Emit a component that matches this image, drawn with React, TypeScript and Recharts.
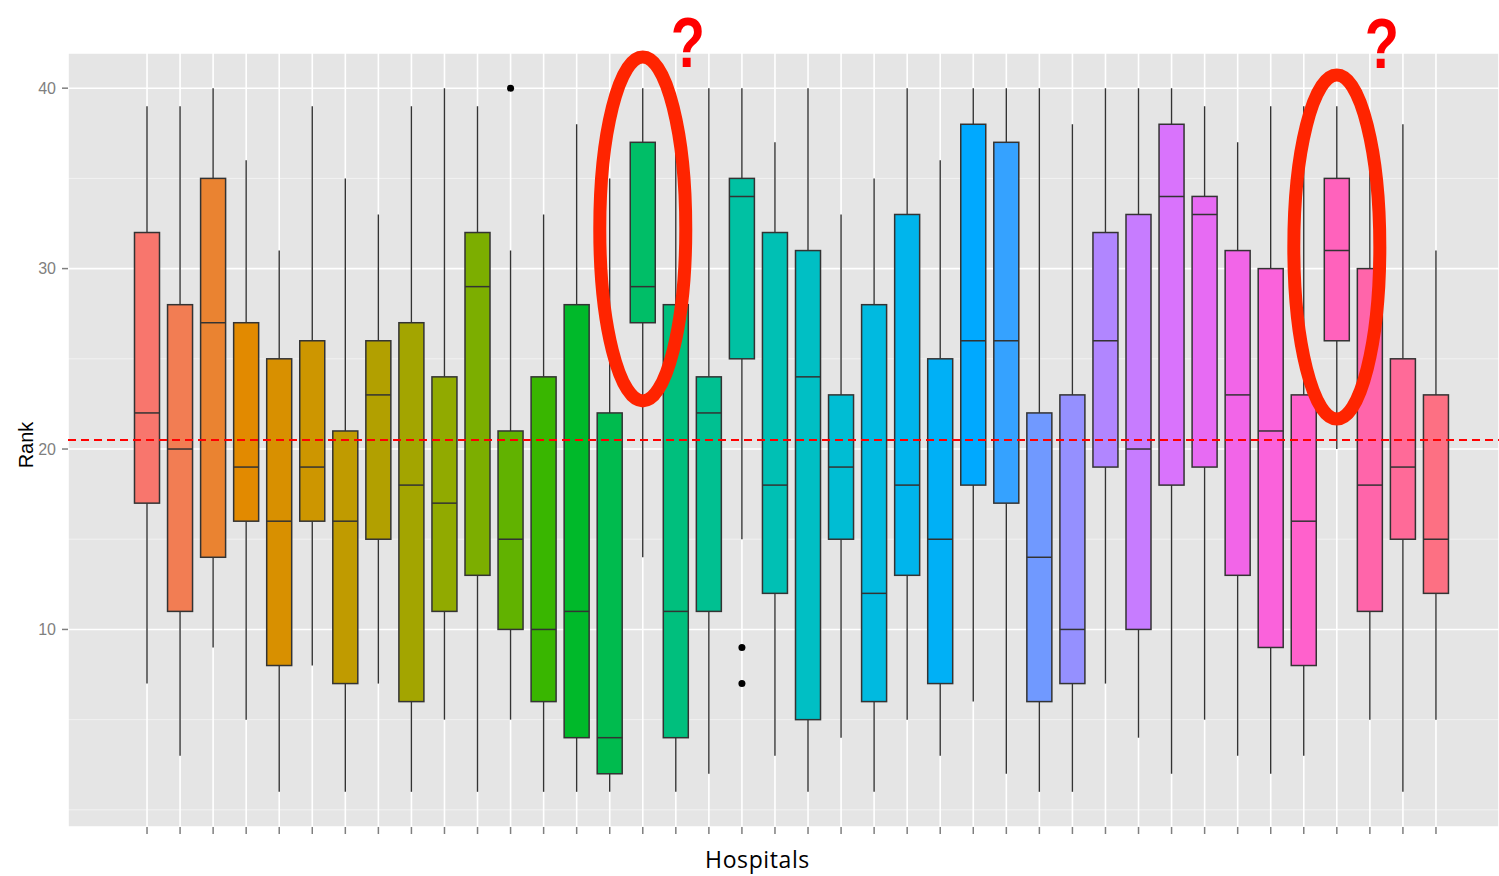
import {
  ComposedChart,
  Bar,
  Scatter,
  XAxis,
  YAxis,
  CartesianGrid,
  ReferenceLine,
  ReferenceDot,
} from 'recharts'

// 40 hospitals, rank distributions (whisker low / Q1 / median / Q3 / whisker high)
const hospitals = Array.from({ length: 40 }, (_, i) => `H${i + 1}`)

const whiskerHigh = [
  39, 39, 40, 36, 31, 39, 35, 33, 39, 40, 39, 31, 33, 38, 35, 40, 37, 40, 40, 37,
  40, 33, 35, 40, 36, 40, 40, 40, 38, 40, 40, 40, 39, 37, 39, 39, 39, 36, 38, 31,
]
const upperQuartile = [
  32, 28, 35, 27, 25, 26, 21, 26, 27, 24, 32, 21, 24, 28, 22, 37, 28, 24, 35, 32,
  31, 23, 28, 33, 25, 38, 37, 22, 23, 32, 33, 38, 34, 31, 30, 23, 35, 30, 25, 23,
]
const medianRank = [
  22, 20, 27, 19, 16, 19, 16, 23, 18, 17, 29, 15, 10, 11, 4, 29, 11, 22, 34, 18,
  24, 19, 12, 18, 15, 26, 26, 14, 10, 26, 20, 34, 33, 23, 21, 16, 31, 18, 19, 15,
]
const lowerQuartile = [
  17, 11, 14, 16, 8, 16, 7, 15, 6, 11, 13, 10, 6, 4, 2, 27, 4, 11, 25, 12,
  5, 15, 6, 13, 7, 18, 17, 6, 7, 19, 10, 18, 19, 13, 9, 8, 26, 11, 15, 12,
]
const whiskerLow = [
  7, 3, 9, 5, 1, 8, 1, 7, 1, 5, 1, 5, 1, 1, 1, 14, 1, 2, 15, 3,
  1, 4, 1, 5, 3, 6, 2, 1, 1, 7, 4, 2, 5, 3, 2, 3, 20, 5, 1, 5,
]

// outlier points: hospital + rank
const outlierHospitals = ['H12', 'H19', 'H19']
const outlierRanks = [40, 9, 7]

const meanRank = 20.5

// circled hospitals with a "?" next to them
const flaggedHospitals = ['H16', 'H37']
const flagCenters = [32.2, 31.2]
const questionMarkRanks = [41.2, 41.1]

// ggplot2 default hue palette
function hcl(h: number, c = 100, l = 65) {
  const rad = (h * Math.PI) / 180
  const U = c * Math.cos(rad)
  const V = c * Math.sin(rad)
  const Xn = 95.047
  const Yn = 100
  const Zn = 108.883
  const un = (4 * Xn) / (Xn + 15 * Yn + 3 * Zn)
  const vn = (9 * Yn) / (Xn + 15 * Yn + 3 * Zn)
  const Y = Yn * Math.pow((l + 16) / 116, 3)
  const u = U / (13 * l) + un
  const v = V / (13 * l) + vn
  const X = (Y * 9 * u) / (4 * v)
  const Z = (Y * (12 - 3 * u - 20 * v)) / (4 * v)
  const x = X / 100
  const y = Y / 100
  const z = Z / 100
  const lin = [
    3.2404542 * x - 1.5371385 * y - 0.4985314 * z,
    -0.969266 * x + 1.8760108 * y + 0.041556 * z,
    0.0556434 * x - 0.2040259 * y + 1.0572252 * z,
  ]
  return (
    '#' +
    lin
      .map((ch) => {
        const g = ch <= 0.0031308 ? 12.92 * ch : 1.055 * Math.pow(ch, 1 / 2.4) - 0.055
        return Math.round(Math.min(1, Math.max(0, g)) * 255)
          .toString(16)
          .padStart(2, '0')
      })
      .join('')
  )
}

const fills = hospitals.map((_, i) => hcl(15 + (360 / hospitals.length) * i))

const rows = hospitals.map((name, i) => {
  const outs = outlierRanks.filter((_, k) => outlierHospitals[k] === name)
  return {
    name,
    low: whiskerLow[i],
    q1: lowerQuartile[i],
    median: medianRank[i],
    q3: upperQuartile[i],
    high: whiskerHigh[i],
    out1: outs[0],
    out2: outs[1],
  }
})

const EDGE = '#333333'

function BoxShape(props: any) {
  const { x, y, width, height, payload, index } = props
  if (!payload) return <g />
  const top = Math.min(y, y + height)
  const bottom = Math.max(y, y + height)
  const span = payload.high - payload.low
  const py = (v: number) => bottom - ((v - payload.low) / span) * (bottom - top)
  const cx = x + width / 2
  const yq1 = py(payload.q1)
  const yq3 = py(payload.q3)
  const ymed = py(payload.median)
  return (
    <g>
      <line x1={cx} x2={cx} y1={top} y2={yq3} stroke={EDGE} strokeWidth={1.4} />
      <line x1={cx} x2={cx} y1={yq1} y2={bottom} stroke={EDGE} strokeWidth={1.4} />
      <rect
        x={x}
        y={yq3}
        width={width}
        height={yq1 - yq3}
        fill={fills[index]}
        stroke={EDGE}
        strokeWidth={1.5}
      />
      <line x1={x} x2={x + width} y1={ymed} y2={ymed} stroke={EDGE} strokeWidth={1.5} />
    </g>
  )
}

function OutlierDot(props: any) {
  const { cx, cy, payload, dataKey } = props
  const key = typeof dataKey === 'string' ? dataKey : 'out1'
  if (!payload || payload[key] == null || !Number.isFinite(cy)) return <g />
  return <circle cx={cx} cy={cy} r={3.5} fill="#000000" />
}

// x axis shows tick marks only, no labels
const NoTickLabel = () => <g />

function RankLabel(props: any) {
  const vb = props.viewBox || { x: 0, y: 53, width: 68, height: 774 }
  const x = vb.x + 33
  const y = vb.y + vb.height / 2 + 5
  return (
    <text
      x={x}
      y={y}
      transform={`rotate(-90, ${x}, ${y})`}
      textAnchor="middle"
      fontFamily="Liberation Sans, Arial, sans-serif"
      fontSize={20}
      fill="#000000"
    >
      Rank
    </text>
  )
}

function HospitalsLabel(props: any) {
  const vb = props.viewBox || { x: 68, y: 827, width: 1431, height: 49 }
  return (
    <text
      x={vb.x + vb.width / 2 - 26}
      y={vb.y + 41}
      textAnchor="middle"
      fontFamily="Open Sans, sans-serif"
      fontSize={23}
      letterSpacing={0.6}
      fill="#000000"
    >
      Hospitals
    </text>
  )
}

function QuestionMark(props: any) {
  const x = props.cx + 45
  const y = props.cy
  return (
    <text
      transform={`translate(${x}, ${y}) scale(0.8, 1)`}
      x={0}
      y={0}
      textAnchor="middle"
      fontFamily="Liberation Sans, Arial, sans-serif"
      fontWeight={700}
      fontSize={70}
      fill="#FF0000"
    >
      ?
    </text>
  )
}

function Ring(props: any) {
  return (
    <ellipse
      cx={props.cx}
      cy={props.cy}
      rx={43}
      ry={172}
      fill="none"
      stroke="#FF2400"
      strokeWidth={13}
    />
  )
}

export default function App() {
  return (
    <div
      style={{
        position: 'absolute',
        left: 0,
        top: 0,
        width: 1499,
        height: 876,
        background: '#ffffff',
      }}
    >
      <ComposedChart
        width={1499}
        height={876}
        data={rows}
        margin={{ top: 53, right: 0, bottom: 0, left: 0 }}
      >
        <CartesianGrid
          fill="#E5E5E5"
          stroke="#F2F2F2"
          strokeWidth={1}
          vertical={false}
          horizontalValues={[0, 5, 15, 25, 35]}
        />
        <CartesianGrid stroke="#FFFFFF" strokeWidth={1.6} />
        <XAxis
          dataKey="name"
          type="category"
          interval={0}
          padding={{ left: 62.5, right: 46.5 }}
          height={49}
          axisLine={false}
          tick={NoTickLabel}
          tickLine={{ stroke: '#7F7F7F', strokeWidth: 1.5 }}
          tickSize={7}
          label={{ value: 'Hospitals', content: HospitalsLabel }}
        />
        <YAxis
          type="number"
          domain={[-0.95, 41.95]}
          ticks={[10, 20, 30, 40]}
          allowDataOverflow
          width={68}
          axisLine={false}
          tickLine={{ stroke: '#7F7F7F', strokeWidth: 1.5 }}
          tickSize={6}
          tickMargin={6}
          tick={{ fill: '#7F7F7F', fontSize: 16, fontFamily: 'Liberation Sans, Arial, sans-serif' }}
          label={{ value: 'Rank', content: RankLabel }}
        />
        <Bar
          dataKey={(d: any) => [d.low, d.high]}
          barSize={25}
          shape={BoxShape}
          isAnimationActive={false}
        />
        <Scatter dataKey="out1" shape={OutlierDot} isAnimationActive={false} />
        <Scatter dataKey="out2" shape={OutlierDot} isAnimationActive={false} />
        <ReferenceLine
          y={meanRank}
          stroke="#FF0000"
          strokeWidth={2}
          strokeDasharray="8 5"
        />
        {flaggedHospitals.map((h, i) => (
          <ReferenceDot
            key={`ring-${h}`}
            x={h}
            y={flagCenters[i]}
            ifOverflow="visible"
            shape={Ring}
          />
        ))}
        {flaggedHospitals.map((h, i) => (
          <ReferenceDot
            key={`q-${h}`}
            x={h}
            y={questionMarkRanks[i]}
            ifOverflow="visible"
            shape={QuestionMark}
          />
        ))}
      </ComposedChart>
    </div>
  )
}
